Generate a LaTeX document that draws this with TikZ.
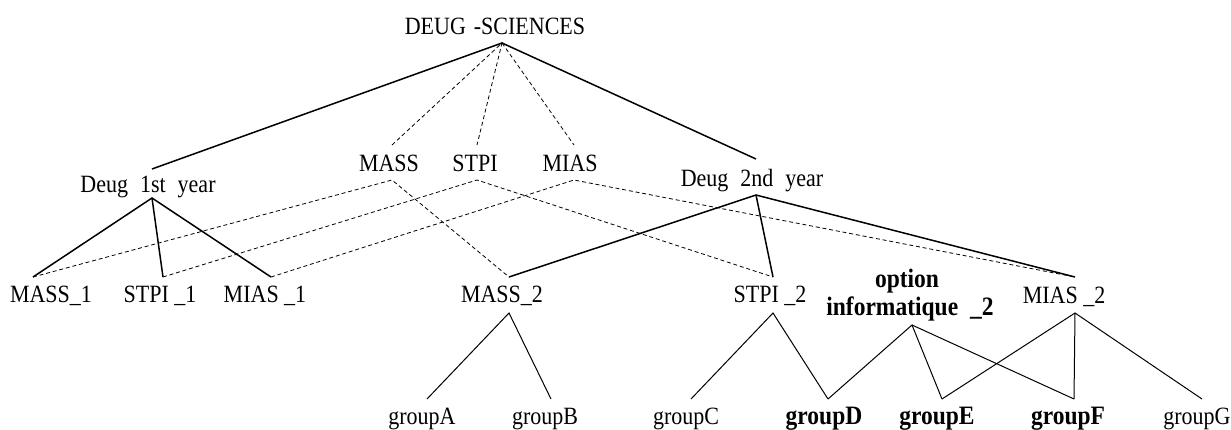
\documentclass[tikz,border=0pt]{standalone}
\usepackage{fontspec}
\setmainfont{Liberation Serif}
\newcommand\talltext[1]{\scalebox{1}[1.13]{#1}}
\begin{document}
\begin{tikzpicture}[x=1pt,y=-1pt,
  lbl/.style={inner sep=0pt, anchor=base, font=\fontsize{22}{26}\selectfont},
  blbl/.style={inner sep=0pt, anchor=base, font=\fontsize{23.5}{27}\selectfont\bfseries},
  thick tree/.style={line width=1.5pt},
  thin tree/.style={line width=1pt},
  dsh/.style={line width=0.8pt, dash pattern=on 4pt off 2.8pt}]
\useasboundingbox (0,0) rectangle (1231,429);

% text nodes
\node[lbl] (sci) at (495,34) {\talltext{DEUG\hspace{8pt}-SCIENCES}};
\node[lbl] (mass) at (389,171) {\talltext{MASS}};
\node[lbl] (stpi) at (475,171) {\talltext{STPI}};
\node[lbl] (mias) at (570,171) {\talltext{MIAS}};
\node[lbl] (y1) at (148,192) {\talltext{Deug\hspace{12pt}1st\hspace{12pt}year}};
\node[lbl] (y2) at (752,186) {\talltext{Deug\hspace{12pt}2nd\hspace{12pt}year}};
\node[lbl] (mass1) at (51,302) {\talltext{MASS\_1}};
\node[lbl] (stpi1) at (160,302) {\talltext{STPI \_1}};
\node[lbl] (mias1) at (265,302) {\talltext{MIAS \_1}};
\node[lbl] (mass2) at (502,302) {\talltext{MASS\_2}};
\node[lbl] (stpi2) at (770,302) {\talltext{STPI \_2}};
\node[lbl] (mias2) at (1064,303) {\talltext{MIAS \_2}};
\node[blbl] (opt) at (907,287) {\talltext{option}};
\node[blbl] (info) at (910,315) {\talltext{informatique\hspace{12pt}\_2}};
\node[lbl] (ga) at (422,424) {\talltext{groupA}};
\node[lbl] (gb) at (545,424) {\talltext{groupB}};
\node[lbl] (gc) at (686,424) {\talltext{groupC}};
\node[blbl] (gd) at (824,424) {\talltext{groupD}};
\node[blbl] (ge) at (937,424) {\talltext{groupE}};
\node[blbl] (gf) at (1068,424) {\talltext{groupF}};
\node[lbl] (gg) at (1197,424) {\talltext{groupG}};

% attachment points
\coordinate (sci-b) at (502,43);
\coordinate (y1-t) at (152,169);
\coordinate (y1-b) at (152,198);
\coordinate (y2-t) at (756,159);
\coordinate (y2-b) at (756,195);
\coordinate (mass-t) at (392,145);
\coordinate (mass-b) at (392,180);
\coordinate (stpi-t) at (477,145);
\coordinate (stpi-b) at (477,180);
\coordinate (mias-t) at (574,145);
\coordinate (mias-b) at (574,180);
\coordinate (mass1-t) at (33,277);
\coordinate (stpi1-t) at (163,277);
\coordinate (mias1-t) at (271,277);
\coordinate (mass2-t) at (509,277);
\coordinate (stpi2-t) at (773,277);
\coordinate (mias2-t) at (1075,277);
\coordinate (mass2-b) at (509,313);
\coordinate (stpi2-b) at (773,313);
\coordinate (mias2-b) at (1075,313);
\coordinate (opt-b) at (912,325);
\coordinate (ga-t) at (427,399);
\coordinate (gb-t) at (551,399);
\coordinate (gc-t) at (691,399);
\coordinate (gd-t) at (828,399);
\coordinate (ge-t) at (942,399);
\coordinate (gf-t) at (1074,399);
\coordinate (gg-t) at (1202,399);

% solid tree
\draw[thick tree] (y1-t) -- (sci-b) -- (y2-t);
\draw[thick tree] (mass1-t) -- (y1-b) -- (mias1-t);
\draw[thick tree] (y1-b) -- (stpi1-t);
\draw[thick tree] (mass2-t) -- (y2-b) -- (mias2-t);
\draw[thick tree] (y2-b) -- (stpi2-t);

% dashed links
\draw[dsh] (mass-t) -- (sci-b) -- (stpi-t);
\draw[dsh] (sci-b) -- (mias-t);
\draw[dsh] (mass1-t) -- (mass-b) -- (mass2-t);
\draw[dsh] (stpi1-t) -- (stpi-b) -- (stpi2-t);
\draw[dsh] (mias1-t) -- (mias-b) -- (mias2-t);

% groups
\draw[thin tree] (ga-t) -- (mass2-b) -- (gb-t);
\draw[thin tree] (gc-t) -- (stpi2-b) -- (gd-t);
\draw[thin tree] (gd-t) -- (opt-b) -- (ge-t);
\draw[thin tree] (opt-b) -- (gf-t);
\draw[thin tree] (ge-t) -- (mias2-b) -- (gg-t);
\draw[thin tree] (mias2-b) -- (gf-t);
\end{tikzpicture}
\end{document}
